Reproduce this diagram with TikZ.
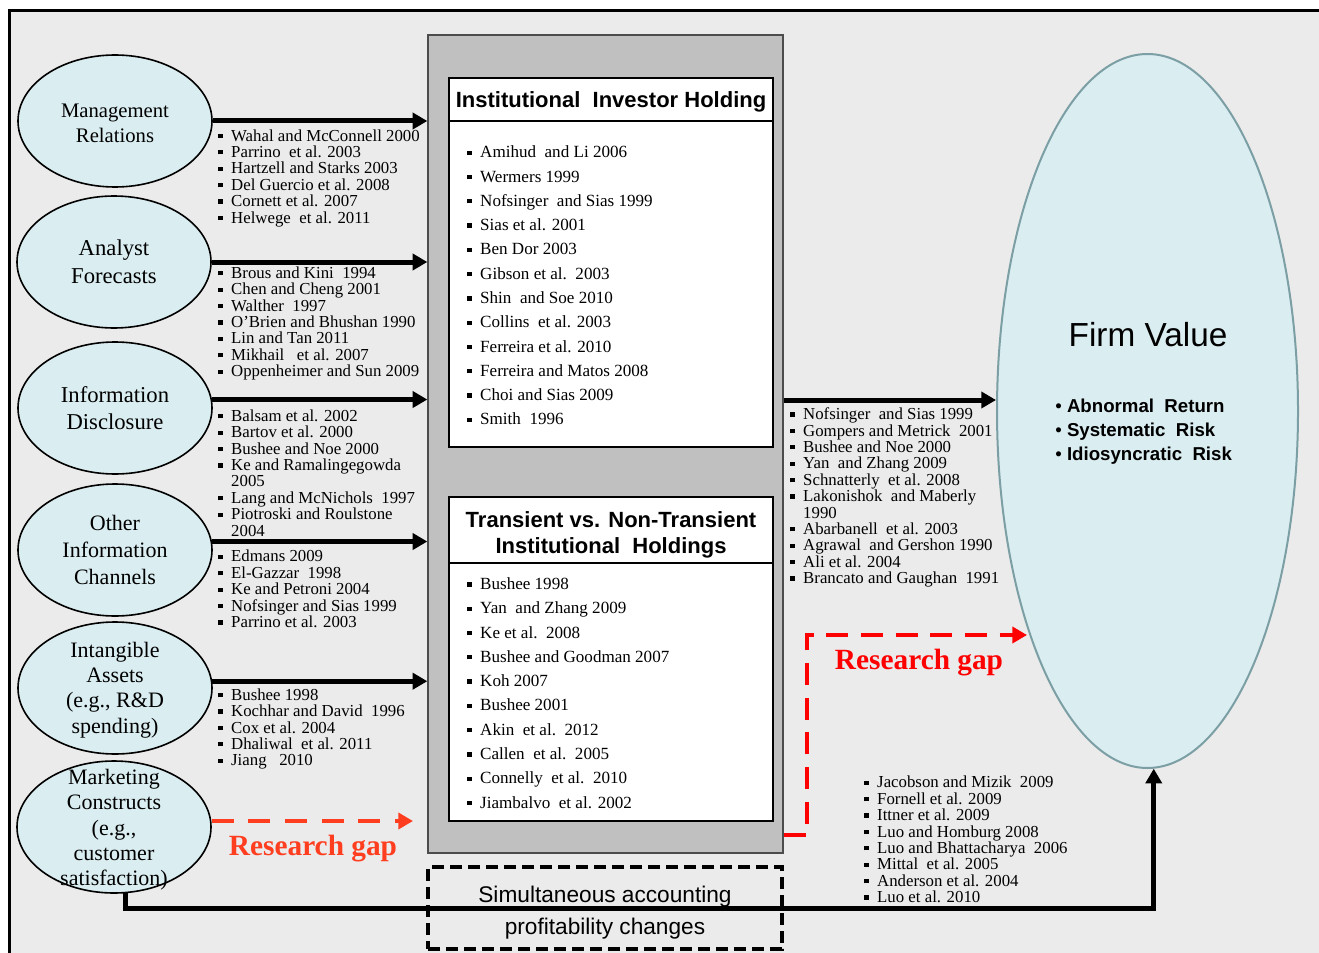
\documentclass[tikz,border=0pt]{standalone}
\usepackage{fontspec}
\setmainfont{Liberation Serif}
\newfontfamily\arialf{Liberation Sans}
\usetikzlibrary{arrows.meta,shapes.geometric,calc}
\definecolor{bgc}{HTML}{EBEBEB}
\definecolor{ellc}{HTML}{DAEDF1}
\definecolor{boxg}{HTML}{C0C0C0}
\definecolor{fvb}{HTML}{7B9FA4}
\definecolor{gapL}{HTML}{FF3D1F}
\definecolor{gapR}{HTML}{FF0000}
\newcommand\bl{\rule[2.2pt]{3.2pt}{3.2pt}\hspace{6.5pt}}
\newcommand\bi{\hphantom{\bl}}
\begin{document}
\begin{tikzpicture}[x=0.75pt,y=-0.75pt,
  ell/.style={ellipse,draw=black,line width=1.2pt,fill=ellc,minimum width=145.5pt,minimum height=99pt,inner sep=0pt},
  elltxt/.style={align=center,inner sep=0pt},
  refs/.style={align=left,anchor=west,inner sep=0pt,font=\fontsize{12.6}{12.3}\selectfont},
  inrefs/.style={align=left,anchor=west,inner sep=0pt,font=\fontsize{12.8}{18.2}\selectfont},
  arr/.style={line width=3.75pt,-{Triangle[length=11pt,width=12pt]}},
  inbox/.style={draw=black,line width=1.5pt,fill=white,minimum width=243pt,inner sep=0pt},
  ttl/.style={font=\arialf\bfseries\fontsize{16.5}{20}\selectfont,align=center,inner sep=0pt},
  gaptxt/.style={font=\bfseries\fontsize{22}{26}\selectfont,inner sep=0pt},
  gapline/.style={line width=3pt,-{Triangle[length=11pt,width=12pt]}}
]
\useasboundingbox (0,0) rectangle (1319,952);
\clip (0,0) rectangle (1319,952);
\fill[white] (0,0) rectangle (1319,952);
\draw[line width=2.25pt,fill=bgc] (9,11) rectangle (1340,975);

% left ellipses
\node[ell] (mr) at (115,121) {};
\node[elltxt,font=\fontsize{15.5}{18.75}\selectfont] at (115,123) {Management\\Relations};
\node[ell] (af) at (114,262) {};
\node[elltxt,font=\fontsize{17}{21}\selectfont] at (af) {Analyst\\Forecasts};
\node[ell] (id) at (115,408) {};
\node[elltxt,font=\fontsize{17}{20}\selectfont] at (id) {Information\\Disclosure};
\node[ell] (oic) at (115,550) {};
\node[elltxt,font=\fontsize{16.5}{20}\selectfont] at (oic) {Other\\Information\\Channels};
\node[ell] (ia) at (115,688) {};
\node[elltxt,font=\fontsize{16.5}{19}\selectfont] at (115,690) {Intangible\\Assets\\(e.g., R\&D\\spending)};
\node[ell] (mc) at (114,827) {};
\node[elltxt,font=\fontsize{16.5}{19}\selectfont] at (114,830) {Marketing\\Constructs\\(e.g.,\\customer\\satisfaction)};

% central grey box
\node[draw=black!70,line width=1pt,fill=boxg,minimum width=266.25pt,minimum height=613.5pt,inner sep=0pt] (gbox) at (605.5,444) {};

% arrows from ellipses
\draw[arr] (mr.east) -- (mr.east -| gbox.west);
\draw[arr] (af.east) -- (af.east -| gbox.west);
\draw[arr] (id.5) -- (id.5 -| gbox.west);
\draw[arr] (oic.5) -- (oic.5 -| gbox.west);
\draw[arr] (ia.4) -- (ia.4 -| gbox.west);

% left reference lists
\node[refs] (lmr) at (218,178) {\bl Wahal and McConnell 2000\\\bl Parrino\ \ et al. 2003\\\bl Hartzell\ and Starks 2003\\\bl Del Guercio et al. 2008\\\bl Cornett et al. 2007\\\bl Helwege\ \ et al. 2011};
\node[refs] (laf) at (218,323.5) {\bl Brous and Kini\ \ 1994\\\bl Chen and Cheng 2001\\\bl Walther\ \ 1997\\\bl O’Brien and Bhushan 1990\\\bl Lin and Tan 2011\\\bl Mikhail\ \ \ et al. 2007\\\bl Oppenheimer and Sun 2009};
\node[refs] (lid) at (218,473) {\bl Balsam et al. 2002\\\bl Bartov et al. 2000\\\bl Bushee and Noe 2000\\\bl Ke and Ramalingegowda\\\bi 2005\\\bl Lang and McNichols\ \ 1997\\\bl Piotroski and Roulstone\\\bi 2004};
\node[refs] (loic) at (218,589) {\bl Edmans 2009\\\bl El-Gazzar\ \ 1998\\\bl Ke and Petroni 2004\\\bl Nofsinger and Sias 1999\\\bl Parrino et al. 2003};
\node[refs] (lia) at (218,729) {\bl Bushee 1998\\\bl Kochhar and David\ \ 1996\\\bl Cox et al. 2004\\\bl Dhaliwal\ \ et al. 2011\\\bl Jiang\ \ \ 2010};

% inner box 1
\node[inbox,minimum height=276.75pt] (ib1) at (611,262.5) {};
\coordinate (s1) at (0,121);
\draw[line width=1.5pt] (ib1.west |- s1) -- (ib1.east |- s1);
\node[ttl] (t1) at (611,102) {Institutional\ \ Investor Holding};
\node[inrefs] (l1) at (467,285.5) {\bl Amihud\ \ and Li 2006\\\bl Wermers 1999\\\bl Nofsinger\ \ and Sias 1999\\\bl Sias et al. 2001\\\bl Ben Dor 2003\\\bl Gibson et al.\ \ 2003\\\bl Shin\ \ and Soe 2010\\\bl Collins\ \ et al. 2003\\\bl Ferreira et al. 2010\\\bl Ferreira and Matos 2008\\\bl Choi and Sias 2009\\\bl Smith\ \ 1996};

% inner box 2
\node[inbox,minimum height=243pt] (ib2) at (611,659) {};
\coordinate (s2) at (0,563);
\draw[line width=1.5pt] (ib2.west |- s2) -- (ib2.east |- s2);
\node[ttl] (t2) at (611,535) {Transient vs. Non-Transient\\Institutional\ \ Holdings};
\node[inrefs] (l2) at (467,693) {\bl Bushee 1998\\\bl Yan\ \ and Zhang 2009\\\bl Ke et al.\ \ 2008\\\bl Bushee and Goodman 2007\\\bl Koh 2007\\\bl Bushee 2001\\\bl Akin\ \ et al.\ \ 2012\\\bl Callen\ \ et al.\ \ 2005\\\bl Connelly\ \ et al.\ \ 2010\\\bl Jiambalvo\ \ et al. 2002};

% dashed box
\node[draw=black,line width=2.4pt,dash pattern=on 9pt off 4.5pt,minimum width=265.5pt,minimum height=61.5pt,inner sep=0pt] (sim) at (605,908) {};
\node[font=\arialf\fontsize{17}{24}\selectfont,align=center,inner sep=0pt] (simt) at (605,913) {Simultaneous accounting\\profitability changes};

% firm value
\node[ellipse,draw=fvb,line width=1.5pt,fill=ellc,minimum width=225.75pt,minimum height=535.5pt,inner sep=0pt] (fv) at (1147.5,411) {};
\node[font=\arialf\fontsize{25}{30}\selectfont,inner sep=0pt] (fvt) at (1148,335) {Firm Value};
\node[font=\arialf\bfseries\fontsize{14}{18}\selectfont,align=left,anchor=west,inner sep=0pt] (fvl) at (1055,432) {{\mdseries •} Abnormal\ \ Return\\{\mdseries •} Systematic\ \ Risk\\{\mdseries •} Idiosyncratic\ \ Risk};

% arrow to firm value
\coordinate (y400) at (0,400);
\draw[arr] (gbox.east |- y400) -- (fv.west |- y400);
\node[refs] (rl) at (790,497.5) {\bl Nofsinger\ \ and Sias 1999\\\bl Gompers and Metrick\ \ 2001\\\bl Bushee and Noe 2000\\\bl Yan\ \ and Zhang 2009\\\bl Schnatterly\ \ et al. 2008\\\bl Lakonishok\ \ and Maberly\\\bi 1990\\\bl Abarbanell\ \ et al. 2003\\\bl Agrawal\ \ and Gershon 1990\\\bl Ali et al. 2004\\\bl Brancato and Gaughan\ \ 1991};

% bottom path
\coordinate (yb) at (0,908);
\draw[arr] (mc.-80) -- (mc.-80 |- yb) -| (fv.-89);
\node[refs] (br) at (864,839.5) {\bl Jacobson and Mizik\ \ 2009\\\bl Fornell et al. 2009\\\bl Ittner et al. 2009\\\bl Luo and Homburg 2008\\\bl Luo and Bhattacharya\ \ 2006\\\bl Mittal\ \ et al. 2005\\\bl Anderson et al. 2004\\\bl Luo et al. 2010};

% research gap left
\coordinate (yL) at (0,821);
\coordinate (gLend) at (413,821);
\draw[gapline,gapL,dash pattern=on 16.5pt off 11pt] (mc.east |- yL) -- (gLend);
\node[gaptxt,text=gapL] (gLt) at (313,849) {Research gap};

% research gap right
\coordinate (gr1) at (807,835);
\coordinate (gr2) at (807,635);
\coordinate (gr3) at (1027,635);
\draw[gapline,gapR,dash pattern=on 16.5pt off 9.5pt] (gbox.east |- gr1) -- (gr1) -- (gr2) -- (gr3);
\node[gaptxt,text=gapR] (gRt) at (919,663) {Research gap};
\end{tikzpicture}
\end{document}
